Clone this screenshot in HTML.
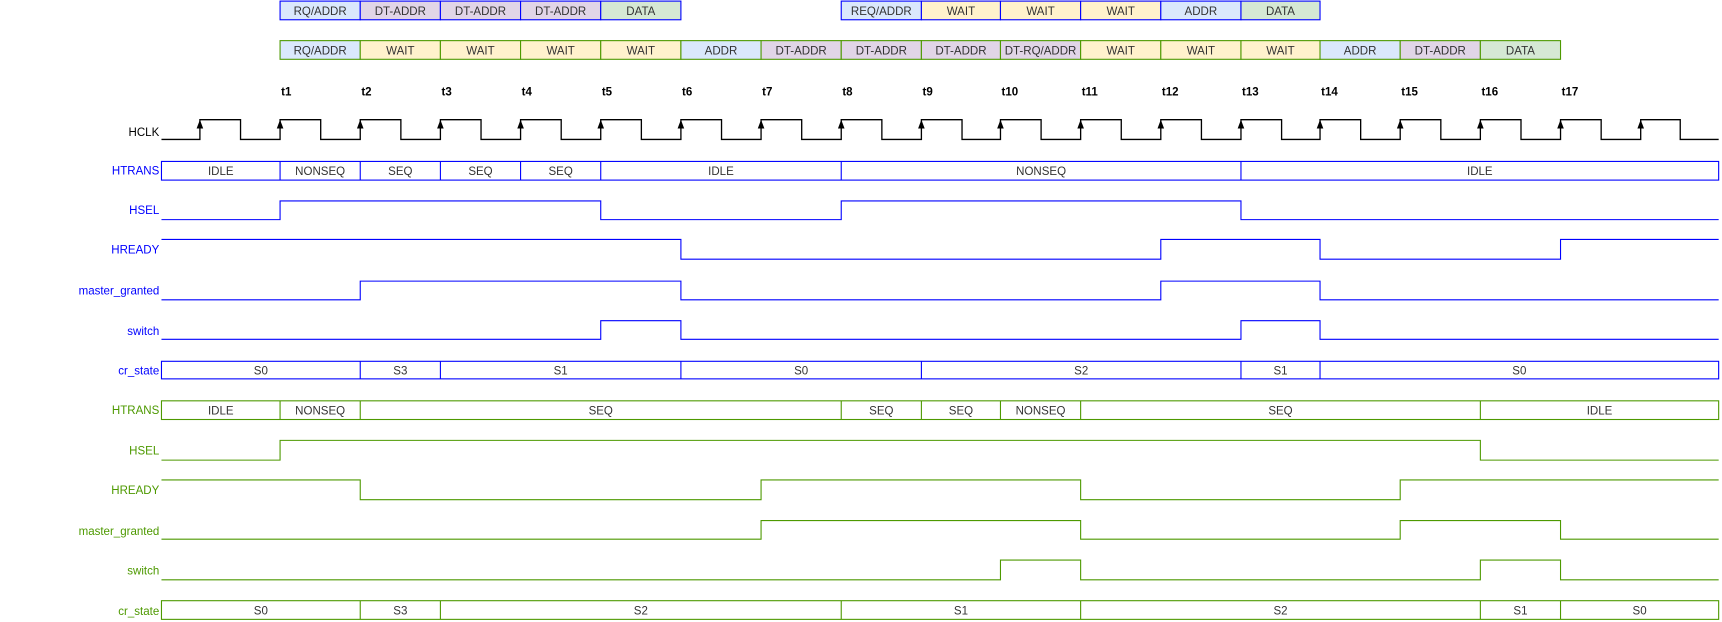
<!DOCTYPE html>
<html><head><meta charset="utf-8"><style>html,body{margin:0;padding:0;background:#fff}svg{display:block}text{font-family:"Liberation Sans",Arial,sans-serif;font-size:10.5px}</style></head><body>
<svg width="1722" height="622" viewBox="0 0 1568 566.4" xmlns="http://www.w3.org/2000/svg">
<defs>
<marker id="a" viewBox="0 0 10 10" refX="5" refY="2" markerWidth="7" markerHeight="9" orient="auto"><path d="M0 10 L5 0 L10 10 Z" fill="#000"/></marker>
</defs>
<!-- top row 1 -->
<g stroke="#0000FF" stroke-width="1">
<rect x="255" y="1" width="73" height="17" fill="#dae8fc"/>
<rect x="328" y="1" width="73" height="17" fill="#e1d5e7"/>
<rect x="401" y="1" width="73" height="17" fill="#e1d5e7"/>
<rect x="474" y="1" width="73" height="17" fill="#e1d5e7"/>
<rect x="547" y="1" width="73" height="17" fill="#d5e8d4"/>
<rect x="766" y="1" width="73" height="17" fill="#dae8fc"/>
<rect x="839" y="1" width="72" height="17" fill="#fff2cc"/>
<rect x="911" y="1" width="73" height="17" fill="#fff2cc"/>
<rect x="984" y="1" width="73" height="17" fill="#fff2cc"/>
<rect x="1057" y="1" width="73" height="17" fill="#dae8fc"/>
<rect x="1130" y="1" width="72" height="17" fill="#d5e8d4"/>
</g>
<g text-anchor="middle" fill="#333">
<text x="291.5" y="13.5">RQ/ADDR</text><text x="364.5" y="13.5">DT-ADDR</text><text x="437.5" y="13.5">DT-ADDR</text><text x="510.5" y="13.5">DT-ADDR</text><text x="583.5" y="13.5">DATA</text>
<text x="802.5" y="13.5">REQ/ADDR</text><text x="875" y="13.5">WAIT</text><text x="947.5" y="13.5">WAIT</text><text x="1020.5" y="13.5">WAIT</text><text x="1093.5" y="13.5">ADDR</text><text x="1166" y="13.5">DATA</text>
</g>
<!-- top row 2 -->
<g stroke="#4D9900" stroke-width="1">
<rect x="255" y="37" width="73" height="17" fill="#dae8fc"/>
<rect x="328" y="37" width="73" height="17" fill="#fff2cc"/>
<rect x="401" y="37" width="73" height="17" fill="#fff2cc"/>
<rect x="474" y="37" width="73" height="17" fill="#fff2cc"/>
<rect x="547" y="37" width="73" height="17" fill="#fff2cc"/>
<rect x="620" y="37" width="73" height="17" fill="#dae8fc"/>
<rect x="693" y="37" width="73" height="17" fill="#e1d5e7"/>
<rect x="766" y="37" width="73" height="17" fill="#e1d5e7"/>
<rect x="839" y="37" width="72" height="17" fill="#e1d5e7"/>
<rect x="911" y="37" width="73" height="17" fill="#e1d5e7"/>
<rect x="984" y="37" width="73" height="17" fill="#fff2cc"/>
<rect x="1057" y="37" width="73" height="17" fill="#fff2cc"/>
<rect x="1130" y="37" width="72" height="17" fill="#fff2cc"/>
<rect x="1202" y="37" width="73" height="17" fill="#dae8fc"/>
<rect x="1275" y="37" width="73" height="17" fill="#e1d5e7"/>
<rect x="1348" y="37" width="73" height="17" fill="#d5e8d4"/>
</g>
<g text-anchor="middle" fill="#333">
<text x="291.5" y="49.5">RQ/ADDR</text><text x="364.5" y="49.5">WAIT</text><text x="437.5" y="49.5">WAIT</text><text x="510.5" y="49.5">WAIT</text><text x="583.5" y="49.5">WAIT</text><text x="656.5" y="49.5">ADDR</text><text x="729.5" y="49.5">DT-ADDR</text><text x="802.5" y="49.5">DT-ADDR</text><text x="875" y="49.5">DT-ADDR</text><text x="947.5" y="49.5" font-size="10">DT-RQ/ADDR</text><text x="1020.5" y="49.5">WAIT</text><text x="1093.5" y="49.5">WAIT</text><text x="1166" y="49.5">WAIT</text><text x="1238.5" y="49.5">ADDR</text><text x="1311.5" y="49.5">DT-ADDR</text><text x="1384.5" y="49.5">DATA</text>
</g>
<!-- t labels -->
<g fill="#000" font-weight="bold">
<text x="256" y="87">t1</text><text x="329" y="87">t2</text><text x="402" y="87">t3</text><text x="475" y="87">t4</text><text x="548" y="87">t5</text><text x="621" y="87">t6</text><text x="694" y="87">t7</text><text x="767" y="87">t8</text><text x="840" y="87">t9</text><text x="912" y="87">t10</text><text x="985" y="87">t11</text><text x="1058" y="87">t12</text><text x="1131" y="87">t13</text><text x="1203" y="87">t14</text><text x="1276" y="87">t15</text><text x="1349" y="87">t16</text><text x="1422" y="87">t17</text>
</g>
<!-- labels -->
<g text-anchor="end">
<text x="145" y="124" fill="#000">HCLK</text>
<g fill="#0000FF"><text x="145" y="159">HTRANS</text><text x="145" y="195">HSEL</text><text x="145" y="231">HREADY</text><text x="145" y="268">master_granted</text><text x="145" y="305">switch</text><text x="145" y="341">cr_state</text></g>
<g fill="#4D9900"><text x="145" y="377">HTRANS</text><text x="145" y="414">HSEL</text><text x="145" y="450">HREADY</text><text x="145" y="487">master_granted</text><text x="145" y="523">switch</text><text x="145" y="560">cr_state</text></g>
</g>
<!-- clock -->
<path fill="none" stroke="#000" stroke-width="1.2" d="M147 127H182V109H219V127H255V109H292V127H328V109H365V127H401V109H438V127H474V109H511V127H547V109H584V127H620V109H657V127H693V109H730V127H766V109H803V127H839V109H876V127H911V109H948V127H984V109H1021V127H1057V109H1094V127H1130V109H1167V127H1202V109H1239V127H1275V109H1312V127H1348V109H1385V127H1421V109H1458V127H1494V109H1530V127H1565"/>
<g fill="#000">
<path d="M182 109l-3 8h6z"/><path d="M255 109l-3 8h6z"/><path d="M328 109l-3 8h6z"/><path d="M401 109l-3 8h6z"/><path d="M474 109l-3 8h6z"/><path d="M547 109l-3 8h6z"/><path d="M620 109l-3 8h6z"/><path d="M693 109l-3 8h6z"/><path d="M766 109l-3 8h6z"/><path d="M839 109l-3 8h6z"/><path d="M911 109l-3 8h6z"/><path d="M984 109l-3 8h6z"/><path d="M1057 109l-3 8h6z"/><path d="M1130 109l-3 8h6z"/><path d="M1202 109l-3 8h6z"/><path d="M1275 109l-3 8h6z"/><path d="M1348 109l-3 8h6z"/><path d="M1421 109l-3 8h6z"/><path d="M1494 109l-3 8h6z"/>
</g>
<!-- blue signals -->
<g fill="none" stroke="#0000FF" stroke-width="1">
<rect x="147" y="147" width="1418" height="17"/>
<path d="M255 147V164M328 147V164M401 147V164M474 147V164M547 147V164M766 147V164M1130 147V164"/>
<path d="M147 200H255V183H547V200H766V183H1130V200H1565"/>
<path d="M147 218H620V236H1057V218H1202V236H1421V218H1565"/>
<path d="M147 273H328V256H620V273H1057V256H1202V273H1565"/>
<path d="M147 309H547V292H620V309H1130V292H1202V309H1565"/>
<rect x="147" y="329" width="1418" height="16"/>
<path d="M328 329V345M401 329V345M620 329V345M839 329V345M1130 329V345M1202 329V345"/>
</g>
<g text-anchor="middle" fill="#333">
<text x="201" y="159.5">IDLE</text><text x="291.5" y="159.5">NONSEQ</text><text x="364.5" y="159.5">SEQ</text><text x="437.5" y="159.5">SEQ</text><text x="510.5" y="159.5">SEQ</text><text x="656.5" y="159.5">IDLE</text><text x="948" y="159.5">NONSEQ</text><text x="1347.5" y="159.5">IDLE</text>
<text x="237.5" y="341">S0</text><text x="364.5" y="341">S3</text><text x="510.5" y="341">S1</text><text x="729.5" y="341">S0</text><text x="984.5" y="341">S2</text><text x="1166" y="341">S1</text><text x="1383.5" y="341">S0</text>
</g>
<!-- green signals -->
<g fill="none" stroke="#4D9900" stroke-width="1">
<rect x="147" y="365" width="1418" height="17"/>
<path d="M255 365V382M328 365V382M766 365V382M839 365V382M911 365V382M984 365V382M1348 365V382"/>
<path d="M147 419H255V401H1348V419H1565"/>
<path d="M147 437H328V455H693V437H984V455H1275V437H1565"/>
<path d="M147 491H693V474H984V491H1275V474H1421V491H1565"/>
<path d="M147 528H911V510H984V528H1348V510H1421V528H1565"/>
<rect x="147" y="547" width="1418" height="17"/>
<path d="M328 547V564M401 547V564M766 547V564M984 547V564M1348 547V564M1421 547V564"/>
</g>
<g text-anchor="middle" fill="#333">
<text x="201" y="377.5">IDLE</text><text x="291.5" y="377.5">NONSEQ</text><text x="547" y="377.5">SEQ</text><text x="802.5" y="377.5">SEQ</text><text x="875" y="377.5">SEQ</text><text x="947.5" y="377.5">NONSEQ</text><text x="1166" y="377.5">SEQ</text><text x="1456.5" y="377.5">IDLE</text>
<text x="237.5" y="559.5">S0</text><text x="364.5" y="559.5">S3</text><text x="583.5" y="559.5">S2</text><text x="875" y="559.5">S1</text><text x="1166" y="559.5">S2</text><text x="1384.5" y="559.5">S1</text><text x="1493" y="559.5">S0</text>
</g>
</svg>
</body></html>
